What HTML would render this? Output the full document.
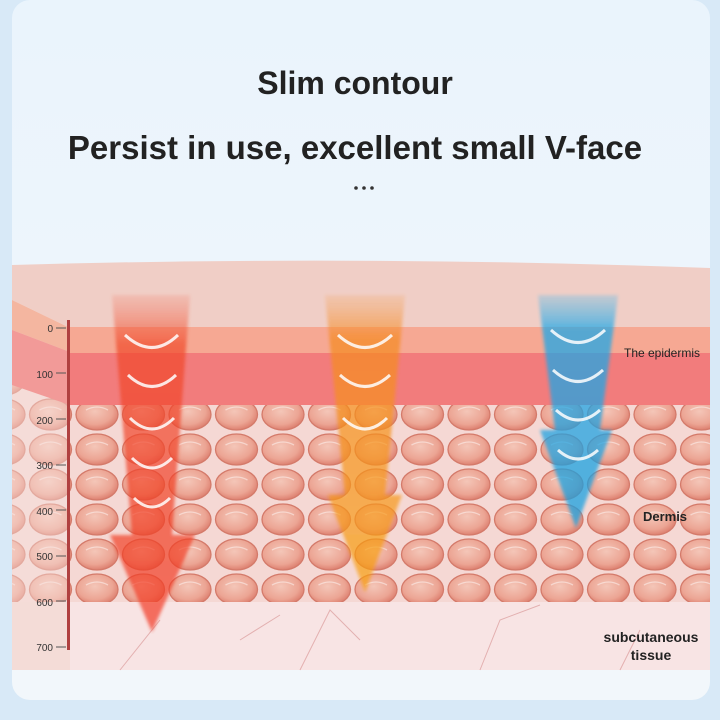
<!DOCTYPE html>
<html><head><meta charset="utf-8"><style>
html,body{margin:0;padding:0;width:720px;height:720px;overflow:hidden;background:#dcebf8}
</style></head><body>
<svg width="720" height="720" viewBox="0 0 720 720" xmlns="http://www.w3.org/2000/svg" font-family="Liberation Sans, DejaVu Sans, sans-serif">
<defs>
<linearGradient id="bg" x1="0" y1="0" x2="0" y2="1">
<stop offset="0" stop-color="#eaf4fc"/><stop offset="1" stop-color="#f2f7fb"/></linearGradient>
<radialGradient id="cell" cx="0.45" cy="0.4" r="0.6">
<stop offset="0" stop-color="#f4c6b8"/><stop offset="0.7" stop-color="#eca594"/><stop offset="1" stop-color="#dd8070"/></radialGradient>
<pattern id="cells" x="27.5" y="397" width="46.5" height="35" patternUnits="userSpaceOnUse">
<ellipse cx="23" cy="17.5" rx="21" ry="15.5" fill="url(#cell)" stroke="#d47a6a" stroke-width="1.3"/>
<path d="M12 13 Q23 7 34 13" stroke="#fff" stroke-opacity="0.45" stroke-width="1.3" fill="none"/>
</pattern>
<linearGradient id="red" x1="0" y1="0" x2="0" y2="1">
<stop offset="0" stop-color="#f46a50" stop-opacity="0.2"/><stop offset="0.15" stop-color="#f04a2a" stop-opacity="0.85"/><stop offset="1" stop-color="#f23a25" stop-opacity="0.85"/></linearGradient>
<linearGradient id="org" x1="0" y1="0" x2="0" y2="1">
<stop offset="0" stop-color="#f59a40" stop-opacity="0.2"/><stop offset="0.15" stop-color="#f58a20" stop-opacity="0.85"/><stop offset="1" stop-color="#f8a010" stop-opacity="0.85"/></linearGradient>
<linearGradient id="blu" x1="0" y1="0" x2="0" y2="1">
<stop offset="0" stop-color="#40b8f0" stop-opacity="0.3"/><stop offset="0.15" stop-color="#1ea8e8" stop-opacity="0.9"/><stop offset="1" stop-color="#1aa0e0" stop-opacity="0.9"/></linearGradient>
<filter id="blur"><feGaussianBlur stdDeviation="1.5"/></filter>
</defs>
<rect width="720" height="720" fill="#d8e9f7"/>
<rect x="12" y="0" width="698" height="700" rx="18" fill="url(#bg)"/>
<text x="355" y="94" text-anchor="middle" font-size="32" font-weight="bold" fill="#222">Slim contour</text>
<text x="355" y="159" text-anchor="middle" font-size="33" font-weight="bold" fill="#222">Persist in use, excellent small V-face</text>
<circle cx="356" cy="188" r="1.8" fill="#333"/><circle cx="364" cy="188" r="1.8" fill="#333"/><circle cx="372" cy="188" r="1.8" fill="#333"/>
<path d="M12 265 Q360 255 710 268 L710 328 L70 328 L12 300 Z" fill="#f0cec6"/>
<path d="M12 300 L70 328 L70 670 L12 670 Z" fill="#f3d8d2"/>
<rect x="12" y="385" width="698" height="217" fill="#f5d8d4"/>
<rect x="12" y="385" width="698" height="217" fill="url(#cells)"/>
<rect x="12" y="385" width="58" height="285" fill="#f7e2de" opacity="0.45"/>
<path d="M12 300 L70 328 L70 352 L12 330 Z" fill="#f4b6a0"/>
<path d="M12 330 L70 352 L70 405 L12 385 Z" fill="#f29a98"/>
<rect x="70" y="327" width="640" height="26" fill="#f6a893"/>
<rect x="70" y="353" width="640" height="52" fill="#f27c7c"/>
<rect x="70" y="602" width="640" height="68" fill="#f8e4e4"/>
<path d="M120 670 L160 620 M300 670 L330 610 L360 640 M480 670 L500 620 L540 605 M240 640 L280 615 M620 670 L640 630" stroke="#e3b0b0" stroke-width="1" fill="none"/>
<g opacity="0.82" filter="url(#blur)">
<path d="M112 295 L190 295 L172 535 L195 535 L152 632 L110 535 L132 535 Z" fill="url(#red)"/>
<path d="M325 295 L405 295 L385 495 L402 495 L365 592 L328 495 L345 495 Z" fill="url(#org)"/>
<path d="M538 295 L618 295 L600 430 L612 430 L576 528 L540 430 L555 430 Z" fill="url(#blu)"/>
</g>
<g stroke="#fff" stroke-width="3" fill="none" opacity="0.85">
<path d="M125 335 Q152 360 178 335"/><path d="M128 375 Q152 398 176 375"/><path d="M130 418 Q152 440 174 418"/><path d="M132 458 Q152 478 172 458"/><path d="M134 498 Q152 516 170 498"/>
<path d="M338 335 Q365 360 392 335"/><path d="M340 375 Q365 398 390 375"/><path d="M343 418 Q365 440 387 418"/>
<path d="M551 330 Q578 355 605 330"/><path d="M553 370 Q578 393 603 370"/><path d="M556 410 Q578 430 600 410"/><path d="M558 450 Q578 468 598 450"/>
</g>
<rect x="67" y="320" width="3" height="330" fill="#b04040"/>
<g font-size="10" fill="#333" text-anchor="end">
<text x="53" y="332">0</text><text x="53" y="378">100</text><text x="53" y="424">200</text><text x="53" y="469">300</text><text x="53" y="515">400</text><text x="53" y="560">500</text><text x="53" y="606">600</text><text x="53" y="651">700</text>
</g>
<g stroke="#555" stroke-width="1">
<path d="M56 328H66M56 373H66M56 419H66M56 465H66M56 510H66M56 556H66M56 601H66M56 647H66"/>
</g>
<g font-size="13" fill="#222" font-weight="bold" text-anchor="middle">
<text x="662" y="357" font-size="12" font-weight="normal">The epidermis</text>
<text x="665" y="521">Dermis</text>
<text x="651" y="642" font-size="14">subcutaneous</text>
<text x="651" y="660" font-size="14">tissue</text>
</g>
<rect x="0" y="700" width="720" height="20" fill="#d8e9f7"/>
</svg>
</body></html>
